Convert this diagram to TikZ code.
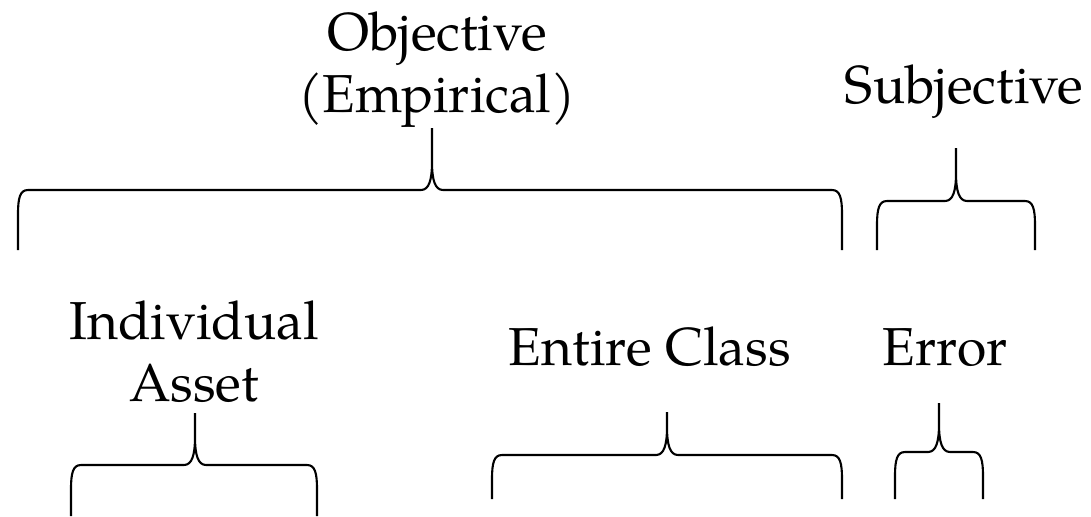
\documentclass[tikz,border=0pt]{standalone}
\usepackage{fontspec}
\setmainfont{TeX Gyre Pagella}
\usetikzlibrary{positioning}

% tall curly brace: left, right, tip x, bar y, tip top y, leg bottom y
\newcommand{\tallbrace}[6]{%
  \draw[brace] (#1,#6) -- (#1,#4+24) .. controls (#1,#4+8) and (#1+2,#4) .. (#1+10,#4)
    -- (#3-11,#4) .. controls (#3-3,#4) and (#3,#4-10) .. (#3,#4-28) -- (#3,#5)
    (#3,#4-28) .. controls (#3,#4-10) and (#3+3,#4) .. (#3+11,#4)
    -- (#2-10,#4) .. controls (#2-2,#4) and (#2,#4+8) .. (#2,#4+24) -- (#2,#6);}

\begin{document}
\begin{tikzpicture}[
    x=0.025cm, y=-0.025cm,
    lbl/.style={inner sep=0pt, align=center, anchor=base,
                font=\fontsize{38}{44}\selectfont},
    brace/.style={line width=1.5pt, line join=round}
]
  \useasboundingbox (0,0) rectangle (1091,516);

  % labels (anchor = baseline of the last line)
  \node[lbl] (obj) at (437,112) {Objective\\(Empirical)};
  \node[lbl] (subj) at (964,103) {Subjective};
  \node[lbl] (indiv) at (194,401) {Individual\\Asset};
  \node[lbl] (entire) at (650,365) {Entire Class};
  \node[lbl] (err) at (945,365) {Error};

  \tallbrace{18}{842}{432}{190}{128}{250}
  \tallbrace{877}{1035}{956}{201}{148}{250}
  \tallbrace{71}{317}{195}{465}{413}{516}
  \tallbrace{492}{842}{667}{455}{412}{499}
  \tallbrace{895}{983}{939}{452}{403}{499}
\end{tikzpicture}
\end{document}
